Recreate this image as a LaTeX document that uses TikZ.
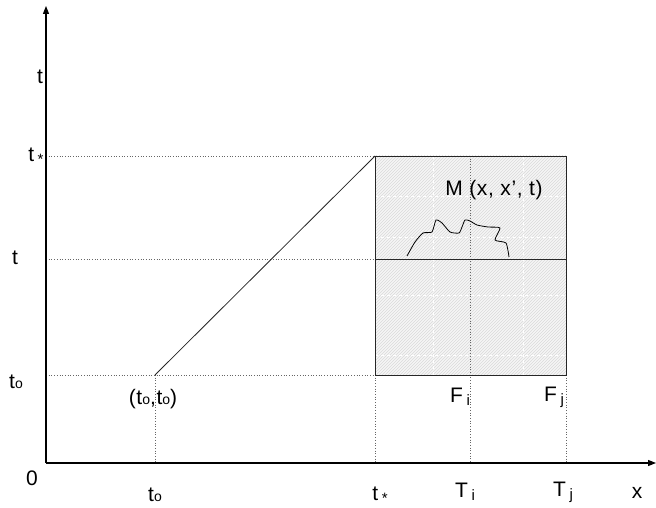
\documentclass[tikz,border=0pt]{standalone}
\usepackage{fontspec}
\setmainfont{Liberation Sans}[LetterSpace=3]
\usetikzlibrary{arrows.meta, patterns, positioning}

\newcommand{\sbs}[1]{\,\raisebox{-3pt}{\fontsize{15}{16}\selectfont #1}}
\newcommand{\zr}{{\fontsize{14}{15}\selectfont o}}

\begin{document}
\begin{tikzpicture}[x=1pt, y=-1pt,
    axis/.style={line width=1.1pt, -{Triangle[length=8pt, width=6pt]}},
    guide/.style={gray!80!black, dotted, line width=0.7pt},
    edge/.style={line width=0.8pt, black!85},
    grid/.style={white, dashed, line width=0.5pt},
    lbl/.style={font=\fontsize{21}{24}\selectfont, inner sep=0pt},
]
\useasboundingbox (0,0) rectangle (656,508);
% axes
\coordinate (O) at (46,463);
\coordinate (ytop) at (46,6);
\coordinate (xend) at (656,463);
% corners of the region
\coordinate (p0) at (155,375);
\coordinate (bl) at (375,375);
\coordinate (tl) at (375,156);
\coordinate (tr) at (566,156);
\coordinate (br) at (566,375);
\coordinate (ml) at (375,259);
\coordinate (mr) at (566,259);
\coordinate (mt) at (470,156);

\fill[gray!7] (bl) rectangle (tr);
\fill[pattern=north east lines, pattern color=gray!30] (bl) rectangle (tr);
\foreach \yy in {196,237,295,355} {
    \draw[grid] (375,\yy) -- (566,\yy);
}
\foreach \xx in {433,523} {
    \draw[grid] (\xx,156) -- (\xx,375);
}

% dotted guides
\draw[guide] (O |- tl) -- (tl);
\draw[guide] (O |- ml) -- (ml);
\draw[guide] (O |- p0) -- (bl);
\foreach \c in {p0, bl, br} {
    \draw[guide] (\c) -- (\c |- O);
}
\draw[guide] (mt) -- (mt |- O);

% region
\draw[edge] (p0) -- (tl);
\draw[edge] (bl) rectangle (tr);
\draw[edge] (ml) -- (mr);
\draw[line width=0.8pt] plot[smooth, tension=0.35] coordinates {
    (407,256) (415,242) (423,233) (432,232) (436,220) (442,223) (450,232)
    (459,233) (462,227) (465,220) (470,221) (477,225) (488,227) (500,228)
    (495,240) (506,243) (509,257)};

\draw[axis] (O) -- (ytop);
\draw[axis] (O) -- (xend);

% labels
\node[lbl] (lt) at (40,77) {t};
\node[lbl] (ltstar) at (36,156) {t\sbs{*}};
\node[lbl] (ltm) at (15,258) {t};
\node[lbl] (lt0) at (16,382) {t\zr};
\node[lbl] (lO) at (32,478) {0};
\node[lbl] (lx0) at (155,495) {t\zr};
\node[lbl] (lxstar) at (380,495) {t\sbs{*}};
\node[lbl] (lTi) at (465,492) {T\sbs{i}};
\node[lbl] (lTj) at (563,492) {T\sbs{j}};
\node[lbl] (lx) at (637,493) {x};
\node[lbl] (lp0) at (153,399) {(t\zr,t\zr)};
\node[lbl] (lFi) at (460,397) {F\sbs{i}};
\node[lbl] (lFj) at (554,397) {F\sbs{j}};
\node[lbl] (lM) at (494,190) {M (x, x’, t)};
\end{tikzpicture}
\end{document}
